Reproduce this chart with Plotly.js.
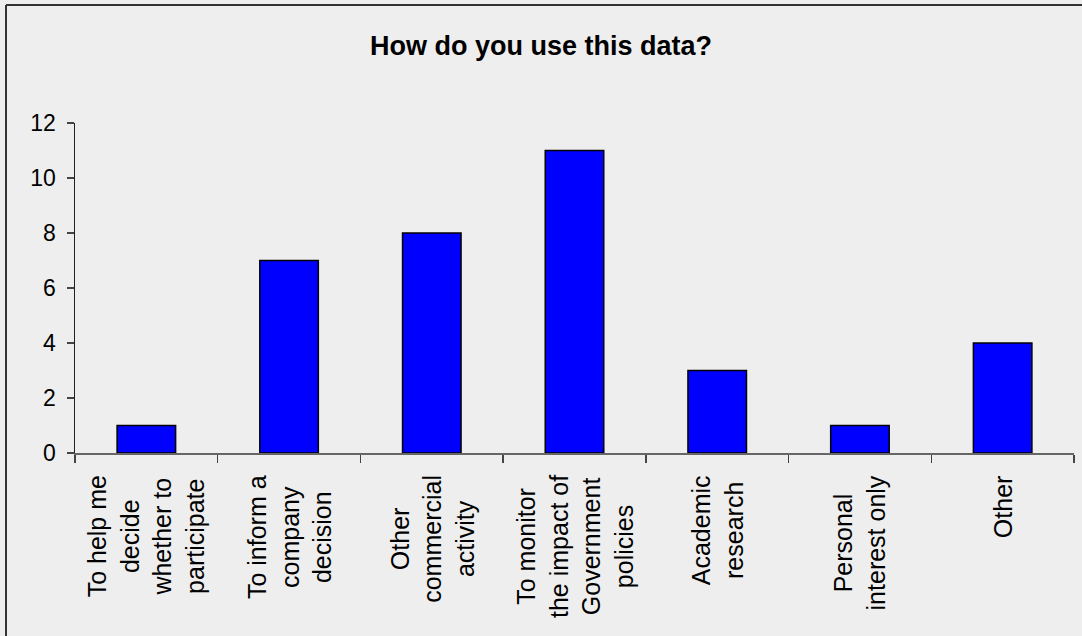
<!DOCTYPE html>
<html>
<head>
<meta charset="utf-8">
<script src="https://cdn.plot.ly/plotly-3.0.1.min.js"></script>
<style>
  html, body { margin: 0; padding: 0; background: #eeeeee; }
  #chart { width: 1082px; height: 636px; }
</style>
</head>
<body>
<div id="chart"></div>
<script>
// Survey answers: how respondents use the published data
const categories = [
  'To help me<br>decide<br>whether to<br>participate',
  'To inform a<br>company<br>decision',
  'Other<br>commercial<br>activity',
  'To monitor<br>the impact of<br>Government<br>policies',
  'Academic<br>research',
  'Personal<br>interest only',
  'Other'
];
const responses = [1, 7, 8, 11, 3, 1, 4];
const yTicks = [0, 2, 4, 6, 8, 10, 12];

const FONT = '"Liberation Sans", Arial, sans-serif';

// plot-area geometry in pixels, used to place the outer frame lines
const W = 1082, H = 636;
const M = { l: 75, r: 8, t: 123, b: 183 };
const pw = W - M.l - M.r, ph = H - M.t - M.b;
const px = x => (x - M.l) / pw;
const py = y => (H - M.b - y) / ph;

const trace = {
  type: 'bar',
  x: categories,
  y: responses,
  marker: { color: '#0000ff', line: { color: '#000000', width: 1.5 } },
  hoverinfo: 'x+y'
};

// rotated, centre-aligned category labels under each bar
const labelAnnotations = categories.map(c => ({
  xref: 'x', yref: 'y',
  x: c, y: 0,
  text: c,
  textangle: -90,
  showarrow: false,
  align: 'center',
  xanchor: 'center',
  yanchor: 'top',
  yshift: -20,
  font: { family: FONT, size: 25, color: '#000000' }
}));

const layout = {
  width: W, height: H,
  margin: M,
  paper_bgcolor: '#eeeeee',
  plot_bgcolor: '#eeeeee',
  showlegend: false,
  bargap: 0.59,
  font: { family: FONT, color: '#000000' },
  title: {
    text: '<b>How do you use this data?</b>',
    font: { family: FONT, size: 27, color: '#000000' },
    x: 0.5, xanchor: 'center',
    y: 1 - 46 / H, yanchor: 'middle'
  },
  xaxis: {
    type: 'category',
    showticklabels: false,
    showgrid: false,
    zeroline: false,
    showline: true,
    linecolor: '#666666',
    linewidth: 1.5,
    ticks: 'outside',
    tickson: 'boundaries',
    ticklen: 8,
    tickcolor: '#444444',
    tickwidth: 1.5,
    range: [-0.5, categories.length - 0.5],
    fixedrange: true
  },
  yaxis: {
    range: [0, 12],
    tickvals: yTicks,
    ticktext: yTicks.map(String),
    showgrid: false,
    zeroline: false,
    showline: true,
    linecolor: '#222222',
    linewidth: 1.5,
    ticks: 'outside',
    ticklen: 7,
    tickcolor: '#444444',
    tickwidth: 1.5,
    ticklabelstandoff: 6,
    tickfont: { family: FONT, size: 23, color: '#000000' },
    fixedrange: true
  },
  annotations: labelAnnotations,
  shapes: [
    // outer chart frame (top and left edges visible)
    { type: 'line', xref: 'paper', yref: 'paper',
      x0: px(6), x1: px(W + 10), y0: py(5), y1: py(5),
      line: { color: '#333333', width: 2 } },
    { type: 'line', xref: 'paper', yref: 'paper',
      x0: px(6), x1: px(6), y0: py(5), y1: py(H + 10),
      line: { color: '#333333', width: 2 } }
  ]
};

Plotly.newPlot('chart', [trace], layout, { displayModeBar: false, staticPlot: true });
</script>
</body>
</html>
